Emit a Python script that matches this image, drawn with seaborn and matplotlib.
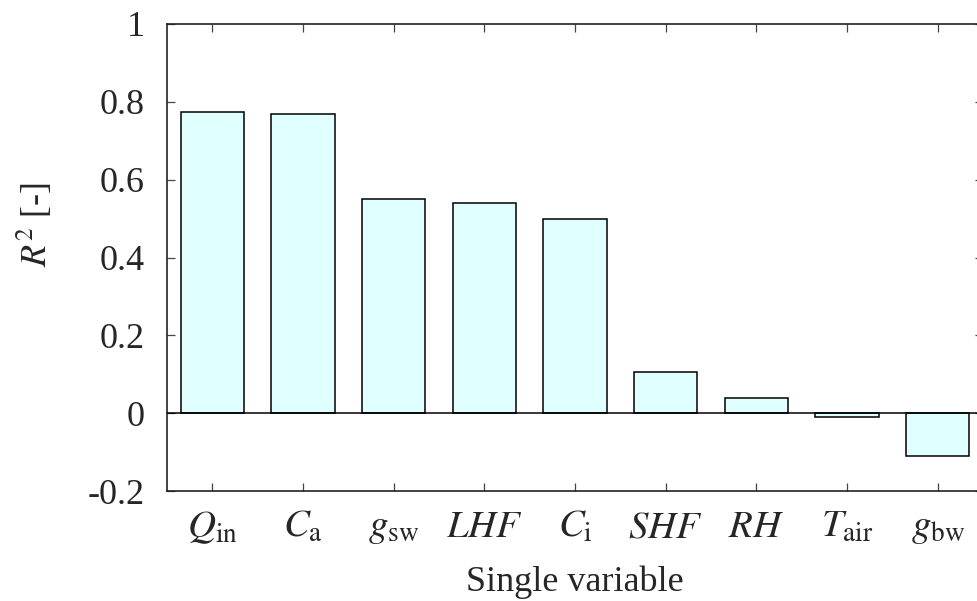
import matplotlib
matplotlib.use("Agg")
import matplotlib.pyplot as plt
import seaborn as sns
import pandas as pd

# R^2 obtained when each variable is used alone
variables = [r"$Q_{\mathrm{in}}$", r"$C_{\mathrm{a}}$", r"$g_{\mathrm{sw}}$", r"$LHF$",
             r"$C_{\mathrm{i}}$", r"$SHF$", r"$RH$", r"$T_{\mathrm{air}}$", r"$g_{\mathrm{bw}}$"]
r2_values = [0.774, 0.768, 0.550, 0.539, 0.500, 0.105, 0.039, -0.009, -0.111]
y_ticks = [-0.2, 0, 0.2, 0.4, 0.6, 0.8, 1]
y_tick_labels = ["-0.2", "0", "0.2", "0.4", "0.6", "0.8", "1"]

sns.set_style("ticks")
plt.rcParams["font.family"] = ["Liberation Serif", "DejaVu Serif"]
plt.rcParams["mathtext.fontset"] = "stix"

df = pd.DataFrame({"variable": variables, "r2": r2_values})

fig = plt.figure(figsize=(9.77, 6.01), dpi=100)
ax = fig.add_axes([167 / 977, 1 - 491 / 601, 816 / 977, 467 / 601])

sns.barplot(data=df, x="variable", y="r2", color="#e0ffff", saturation=1,
            edgecolor="black", linewidth=1.1, width=0.7, ax=ax)

ax.axhline(0, color="black", linewidth=1.1, zorder=3)
ax.set_xlim(-0.5, len(variables) - 0.5)
ax.set_ylim(-0.2, 1.0)
ax.set_yticks(y_ticks)
ax.set_yticklabels(y_tick_labels)

for side in ["left", "right", "top", "bottom"]:
    ax.spines[side].set_visible(True)
    ax.spines[side].set_linewidth(1.2)
    ax.spines[side].set_color("#222222")

ax.tick_params(axis="both", direction="in", length=6, width=0.9, color="#444444",
               top=True, right=True)
ax.tick_params(axis="y", pad=16, labelsize=26)
ax.tick_params(axis="x", pad=13, labelsize=28)

ax.set_xlabel("Single variable", fontsize=26, labelpad=14)
ax.set_ylabel(r"$R^2$ [-]", fontsize=26)
ax.yaxis.set_label_coords(-0.137, 0.57)

fig.savefig("out.png", dpi=100)
